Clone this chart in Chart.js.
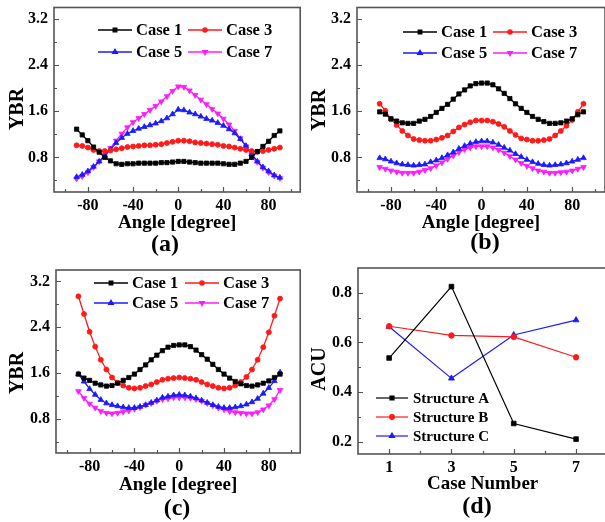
<!DOCTYPE html>
<html><head><meta charset="utf-8">
<script src="https://cdn.jsdelivr.net/npm/chart.js@4/dist/chart.umd.min.js"></script>
<style>
html,body{margin:0;padding:0;background:#fff;overflow:hidden;width:605px;height:522px;position:relative;}
canvas{position:absolute;}
</style></head><body>
<canvas id="ca" style="left:0;top:0"></canvas>
<canvas id="cb" style="left:302px;top:0"></canvas>
<canvas id="cc" style="left:0;top:261px"></canvas>
<canvas id="cd" style="left:302px;top:261px"></canvas>
<script>
// ---------- data ----------
const angles = [-90,-85,-80,-75,-70,-65,-60,-55,-50,-45,-40,-35,-30,-25,-20,-15,-10,-5,0,5,10,15,20,25,30,35,40,45,50,55,60,65,70,75,80,85,90];
const caseLabels = ['Case 1','Case 3','Case 5','Case 7'];

const a_case1 = [1.29,1.19,1.09,0.98,0.89,0.80,0.74,0.69,0.68,0.69,0.69,0.70,0.70,0.70,0.70,0.71,0.71,0.72,0.73,0.73,0.72,0.71,0.70,0.70,0.70,0.70,0.69,0.68,0.68,0.70,0.73,0.80,0.90,0.99,1.08,1.18,1.26];
const a_case3 = [1.01,1.00,0.97,0.93,0.91,0.91,0.92,0.94,0.96,0.98,0.99,1.00,1.01,1.01,1.02,1.03,1.05,1.07,1.09,1.09,1.08,1.06,1.05,1.04,1.03,1.02,1.00,0.99,0.97,0.95,0.93,0.91,0.90,0.91,0.93,0.95,0.97];
const a_case5 = [0.46,0.50,0.56,0.64,0.73,0.83,0.94,1.05,1.14,1.21,1.26,1.30,1.33,1.36,1.39,1.43,1.48,1.55,1.63,1.62,1.58,1.55,1.51,1.47,1.44,1.40,1.35,1.29,1.22,1.12,1.00,0.86,0.73,0.63,0.56,0.49,0.45];
const a_case7 = [0.43,0.47,0.54,0.63,0.73,0.84,0.96,1.09,1.21,1.32,1.41,1.48,1.55,1.62,1.69,1.77,1.86,1.95,2.03,2.02,1.96,1.88,1.80,1.72,1.64,1.56,1.47,1.37,1.26,1.13,0.99,0.85,0.72,0.62,0.54,0.48,0.44];

const b_case1 = [1.59,1.55,1.47,1.43,1.40,1.39,1.39,1.43,1.46,1.51,1.58,1.65,1.72,1.81,1.90,1.97,2.04,2.08,2.09,2.09,2.06,1.99,1.91,1.82,1.73,1.65,1.58,1.51,1.46,1.42,1.39,1.39,1.40,1.43,1.47,1.54,1.59];
const b_case3 = [1.73,1.61,1.46,1.36,1.26,1.18,1.12,1.10,1.09,1.09,1.11,1.14,1.18,1.25,1.32,1.37,1.41,1.44,1.44,1.44,1.42,1.38,1.33,1.26,1.19,1.13,1.11,1.09,1.09,1.10,1.12,1.18,1.26,1.35,1.45,1.59,1.73];
const b_case5 = [0.79,0.77,0.73,0.70,0.68,0.67,0.66,0.67,0.68,0.72,0.75,0.79,0.84,0.89,0.95,1.00,1.04,1.07,1.08,1.08,1.06,1.02,0.97,0.92,0.86,0.81,0.76,0.72,0.69,0.67,0.66,0.67,0.68,0.70,0.73,0.76,0.79];
const b_case7 = [0.63,0.60,0.57,0.55,0.53,0.53,0.53,0.55,0.58,0.61,0.66,0.71,0.77,0.83,0.89,0.94,0.97,0.99,0.99,0.99,0.97,0.93,0.88,0.82,0.76,0.70,0.65,0.61,0.57,0.55,0.53,0.53,0.54,0.55,0.57,0.60,0.63];

const c_case1 = [1.58,1.51,1.47,1.42,1.39,1.37,1.38,1.42,1.47,1.52,1.58,1.66,1.74,1.83,1.91,1.99,2.05,2.08,2.09,2.09,2.06,2.00,1.92,1.84,1.75,1.66,1.58,1.51,1.45,1.41,1.38,1.37,1.39,1.42,1.46,1.52,1.58];
const c_case3 = [2.94,2.63,2.32,2.06,1.83,1.66,1.52,1.43,1.38,1.34,1.33,1.34,1.37,1.40,1.44,1.48,1.50,1.51,1.52,1.51,1.50,1.48,1.44,1.40,1.37,1.34,1.33,1.34,1.38,1.44,1.53,1.66,1.83,2.05,2.31,2.60,2.90];
const c_case5 = [1.58,1.45,1.32,1.22,1.13,1.07,1.04,1.02,1.00,0.99,0.99,1.01,1.04,1.08,1.12,1.17,1.19,1.21,1.22,1.21,1.19,1.16,1.12,1.08,1.04,1.01,0.99,0.99,1.00,1.02,1.05,1.09,1.15,1.24,1.34,1.46,1.61];
const c_case7 = [1.28,1.16,1.06,0.99,0.93,0.90,0.89,0.90,0.92,0.94,0.97,1.00,1.04,1.07,1.11,1.14,1.15,1.17,1.17,1.17,1.16,1.14,1.11,1.07,1.03,0.99,0.96,0.93,0.91,0.90,0.89,0.89,0.91,0.96,1.03,1.14,1.30];

const caseNumbers = [1,3,5,7];
const structureLabels = ['Structure A','Structure B','Structure C'];
const structA = [0.537,0.825,0.273,0.210];
const structB = [0.665,0.628,0.622,0.540];
const structC = [0.663,0.455,0.630,0.690];

const angleMajorTicks = [-80,-40,0,40,80];
const angleMinorTicks = [-100,-60,-20,20,60,100];
const ybrMajorTicks = [0.8,1.6,2.4,3.2];
const ybrMinorTicks = [0.4,1.2,2.0,2.8];
const caseMajorTicks = [1,3,5,7];
const caseMinorTicks = [2,4,6];
const acuMajorTicks = [0.2,0.4,0.6,0.8];
const acuMinorTicks = [0.3,0.5,0.7];

// ---------- helpers ----------
const FONT = "'Liberation Serif','Times New Roman',serif";
const COLORS = ['#000000','#ff1a1a','#1a1aff','#ff1aff'];
const STYLES = [['rect',3.0,0],['circle',2.5,0],['triangle',3.2,0],['triangle',3.2,180]];

function ds(label, xs, ys, color, style, radius, rot, bw) {
  return {
    label, data: xs.map((x, i) => ({x, y: ys[i]})),
    borderColor: color, backgroundColor: color, borderWidth: bw,
    pointStyle: style, pointRadius: radius, pointRotation: rot,
    pointBorderWidth: 0.8, pointBackgroundColor: color, pointBorderColor: color,
    tension: 0, fill: false
  };
}
function caseSets(series) {
  return series.map((s, i) => ds(caseLabels[i], angles, s, COLORS[i], STYLES[i][0], STYLES[i][1], STYLES[i][2], 1.3));
}

function marker(ctx, d, x, y) {
  const h = Chart.helpers;
  if (h && h.drawPoint) {
    h.drawPoint(ctx, {pointStyle: d.pointStyle, radius: d.pointRadius * 0.85, rotation: d.pointRotation, borderWidth: 0.8}, x, y);
  } else {
    ctx.beginPath(); ctx.arc(x, y, d.pointRadius * 0.85, 0, Math.PI * 2); ctx.fill();
  }
}

const decor = {
  id: 'decor',
  afterDatasetsDraw(chart, args, o) {
    const {ctx, chartArea: a, scales: {x, y}} = chart;
    ctx.save();
    ctx.strokeStyle = '#555'; ctx.lineWidth = 1.2;
    ctx.beginPath();
    const tx = (vals, len) => vals.forEach(v => { const p = Math.round(x.getPixelForValue(v)) + 0.5; if (p > a.left + 1 && p < a.right - 1) { ctx.moveTo(p, a.bottom); ctx.lineTo(p, a.bottom - len); } });
    const ty = (vals, len) => vals.forEach(v => { const p = Math.round(y.getPixelForValue(v)) + 0.5; if (p > a.top + 1 && p < a.bottom - 1) { ctx.moveTo(a.left, p); ctx.lineTo(a.left + len, p); } });
    tx(o.xMajor, 5); tx(o.xMinor, 3); ty(o.yMajor, 5); ty(o.yMinor, 3);
    ctx.stroke();
    ctx.lineWidth = 1.6;
    ctx.strokeRect(a.left, a.top, a.right - a.left, a.bottom - a.top);
    ctx.restore();
  },
  afterDraw(chart, args, o) {
    const {ctx, chartArea: a} = chart;
    ctx.save();
    // legend
    const L = o.legend;
    chart.data.datasets.forEach((d, i) => {
      const [dx, dy] = L.cells[i];
      const x0 = a.left + dx, y0 = a.top + dy;
      ctx.strokeStyle = d.borderColor; ctx.lineWidth = d.borderWidth;
      ctx.beginPath(); ctx.moveTo(x0, y0); ctx.lineTo(x0 + L.len, y0); ctx.stroke();
      ctx.fillStyle = d.borderColor; ctx.strokeStyle = d.borderColor;
      marker(ctx, d, x0 + L.len / 2, y0);
      ctx.fillStyle = '#000'; ctx.font = 'bold ' + L.size + 'px ' + FONT;
      ctx.textAlign = 'left'; ctx.textBaseline = 'middle';
      ctx.fillText(d.label, x0 + L.len + L.gap, y0 + 1);
    });
    // y axis title
    ctx.fillStyle = '#000';
    ctx.font = 'bold 20px ' + FONT;
    ctx.textAlign = 'center'; ctx.textBaseline = 'middle';
    ctx.translate(o.yTitle.x, o.yTitle.y); ctx.rotate(-Math.PI / 2);
    ctx.fillText(o.yTitle.text, 0, 0);
    ctx.setTransform(1, 0, 0, 1, 0, 0);
    // panel label
    ctx.font = 'bold 24px ' + FONT;
    ctx.fillText(o.panel.text, o.panel.x, o.panel.y);
    ctx.restore();
  }
};

function buildPanel(id, cfg) {
  const cv = document.getElementById(id);
  const {w, h, area} = cfg;
  cv.width = w; cv.height = h;
  const zeroPad = s => { s.paddingLeft = 0; s.paddingRight = 0; s.paddingTop = 0; s.paddingBottom = 0; };
  const tickFont = {family: FONT, size: 16, weight: 'bold'};
  return new Chart(cv, {
    type: 'line',
    data: {datasets: cfg.datasets},
    options: {
      responsive: false, animation: false, devicePixelRatio: 1,
      layout: {padding: {top: area.top, right: w - area.right, left: 0, bottom: 0}},
      plugins: {
        legend: {display: false}, tooltip: {enabled: false}, title: {display: false},
        decor: {xMajor: cfg.xMajor, xMinor: cfg.xMinor, yMajor: cfg.yMajor, yMinor: cfg.yMinor,
                legend: cfg.legend, yTitle: cfg.yTitle, panel: cfg.panel}
      },
      scales: {
        x: {
          type: 'linear', min: cfg.xMin, max: cfg.xMax,
          grid: {display: false, drawTicks: false}, border: {display: false},
          afterBuildTicks: s => { s.ticks = cfg.xMajor.map(v => ({value: v})); },
          afterFit: s => { s.height = h - area.bottom; zeroPad(s); },
          ticks: {color: '#000', font: tickFont, padding: 4, maxRotation: 0, autoSkip: false,
                  callback: v => String(v)},
          title: {display: true, text: cfg.xTitle, color: '#000',
                  font: {family: FONT, size: 19, weight: 'bold'}, padding: {top: 0, bottom: cfg.xTitlePad}}
        },
        y: {
          type: 'linear', min: cfg.yMin, max: cfg.yMax,
          grid: {display: false, drawTicks: false}, border: {display: false},
          afterBuildTicks: s => { s.ticks = cfg.yMajor.map(v => ({value: v})); },
          afterFit: s => { s.width = area.left; zeroPad(s); },
          ticks: {color: '#000', font: tickFont, padding: 6, autoSkip: false,
                  callback: v => Number(v).toFixed(1)},
          title: {display: false}
        }
      }
    },
    plugins: [decor]
  });
}

const angleLegend = (c1, c2, r1, r2) => ({size: 16.5, len: 34, gap: 4, cells: [[c1, r1], [c2, r1], [c1, r2], [c2, r2]]});

buildPanel('ca', {
  w: 305, h: 261, area: {left: 54, top: 7.5, right: 302, bottom: 192},
  datasets: caseSets([a_case1, a_case3, a_case5, a_case7]),
  xMin: -110, xMax: 108, yMin: 0.2, yMax: 3.4,
  xMajor: angleMajorTicks, xMinor: angleMinorTicks, yMajor: ybrMajorTicks, yMinor: ybrMinorTicks,
  xTitle: 'Angle [degree]', xTitlePad: 27,
  legend: angleLegend(44, 134, 22.5, 44.5),
  yTitle: {text: 'YBR', x: 18, y: 109}, panel: {text: '(a)', x: 165, y: 245}
});
buildPanel('cb', {
  w: 310, h: 261, area: {left: 55, top: 7.5, right: 303, bottom: 192},
  datasets: caseSets([b_case1, b_case3, b_case5, b_case7]),
  xMin: -110, xMax: 109, yMin: 0.2, yMax: 3.4,
  xMajor: angleMajorTicks, xMinor: angleMinorTicks, yMajor: ybrMajorTicks, yMinor: ybrMinorTicks,
  xTitle: 'Angle [degree]', xTitlePad: 27,
  legend: angleLegend(46, 136, 24.5, 45.5),
  yTitle: {text: 'YBR', x: 18, y: 110}, panel: {text: '(b)', x: 183, y: 243}
});
buildPanel('cc', {
  w: 305, h: 261, area: {left: 56, top: 9, right: 302, bottom: 192},
  datasets: caseSets([c_case1, c_case3, c_case5, c_case7]),
  xMin: -110, xMax: 108, yMin: 0.2, yMax: 3.4,
  xMajor: angleMajorTicks, xMinor: angleMinorTicks, yMajor: ybrMajorTicks, yMinor: ybrMinorTicks,
  xTitle: 'Angle [degree]', xTitlePad: 25.5,
  legend: angleLegend(38, 129, 13, 33),
  yTitle: {text: 'YBR', x: 18, y: 112}, panel: {text: '(c)', x: 177, y: 248}
});
buildPanel('cd', {
  w: 310, h: 261, area: {left: 56, top: 7, right: 306, bottom: 193},
  datasets: [structA, structB, structC].map((s, i) => ds(structureLabels[i], caseNumbers, s, COLORS[i], STYLES[i][0], STYLES[i][1] + 0.3, STYLES[i][2], 1.2)),
  xMin: 0, xMax: 8, yMin: 0.15, yMax: 0.9,
  xMajor: caseMajorTicks, xMinor: caseMinorTicks, yMajor: acuMajorTicks, yMinor: acuMinorTicks,
  xTitle: 'Case Number', xTitlePad: 26.5,
  legend: {size: 15, len: 32, gap: 5, cells: [[18, 130], [18, 149], [18, 168]]},
  yTitle: {text: 'ACU', x: 18, y: 108}, panel: {text: '(d)', x: 175, y: 246}
});
</script>
</body></html>
